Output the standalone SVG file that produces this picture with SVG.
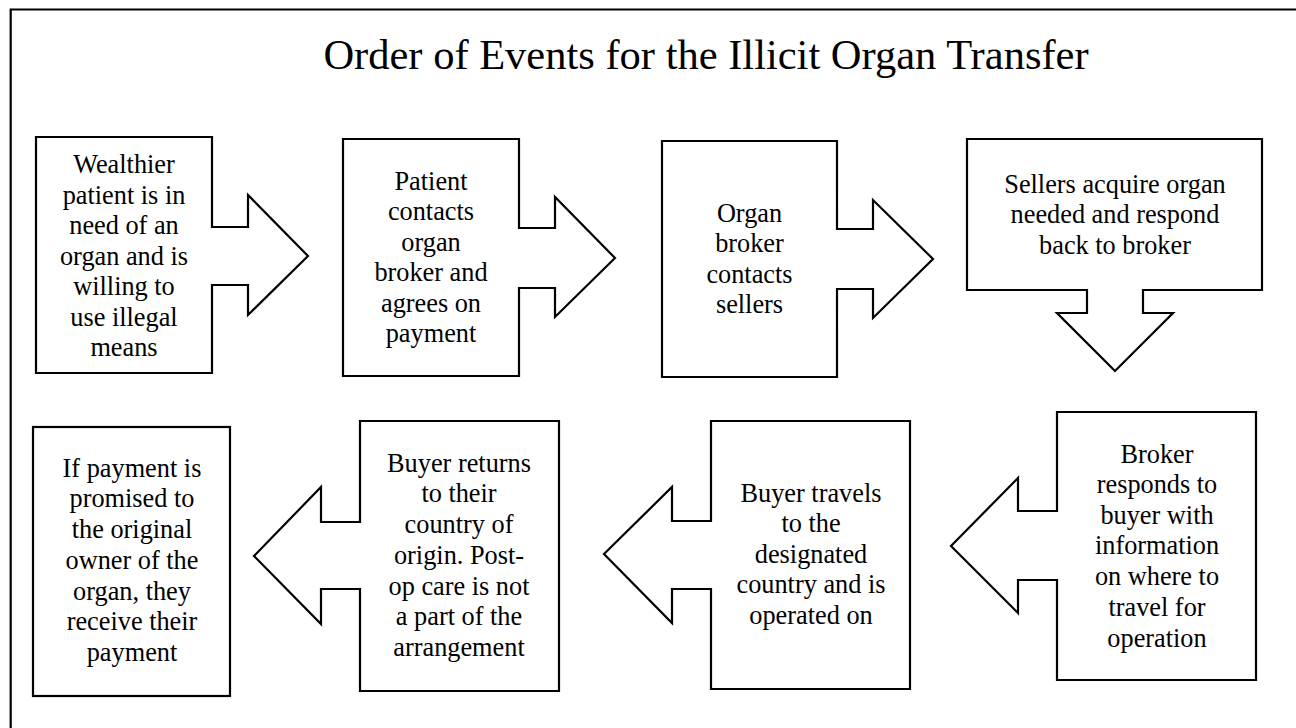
<svg xmlns="http://www.w3.org/2000/svg" width="1296" height="728" viewBox="0 0 1296 728">
<style>
.shape{fill:#fff;stroke:#000;stroke-width:2.2;stroke-linejoin:miter}
.t{font-family:"Liberation Serif","Times New Roman",serif;font-size:26.3px;fill:#000;text-anchor:middle}
.title{font-family:"Liberation Serif","Times New Roman",serif;font-size:42.5px;fill:#000;text-anchor:middle}
</style>
<rect x="0" y="0" width="1296" height="728" fill="#fff"/>
<path d="M10.7,740 V9.5 H1310" fill="none" stroke="#000" stroke-width="2.2"/>
<text class="title" x="706" y="69">Order of Events for the Illicit Organ Transfer</text>
<g id="connectors"></g>
<g id="node1">
<path class="shape" d="M36,137 H212 V227 H248 V195 L308,256 L248,315 V285 H212 V373 H36 Z"/>
<text class="t" x="124" y="173">Wealthier</text>
<text class="t" x="124" y="204">patient is in</text>
<text class="t" x="124" y="234">need of an</text>
<text class="t" x="124" y="265">organ and is</text>
<text class="t" x="124" y="295">willing to</text>
<text class="t" x="124" y="326">use illegal</text>
<text class="t" x="124" y="356">means</text>
</g>
<g id="node2">
<path class="shape" d="M343,139 H519 V228 H555 V197 L615,258 L555,317 V288 H519 V376 H343 Z"/>
<text class="t" x="431" y="190">Patient</text>
<text class="t" x="431" y="220">contacts</text>
<text class="t" x="431" y="251">organ</text>
<text class="t" x="431" y="281">broker and</text>
<text class="t" x="431" y="312">agrees on</text>
<text class="t" x="431" y="342">payment</text>
</g>
<g id="node3">
<path class="shape" d="M662,141 H837 V229 H873 V200 L933,259 L873,318 V289 H837 V377 H662 Z"/>
<text class="t" x="749.5" y="222">Organ</text>
<text class="t" x="749.5" y="252">broker</text>
<text class="t" x="749.5" y="283">contacts</text>
<text class="t" x="749.5" y="313">sellers</text>
</g>
<g id="node4">
<path class="shape" d="M967,139 H1262 V290 H1143 V313 H1173 L1115,371 L1057,313 H1087 V290 H967 Z"/>
<text class="t" x="1115" y="193">Sellers acquire organ</text>
<text class="t" x="1115" y="223">needed and respond</text>
<text class="t" x="1115" y="254">back to broker</text>
</g>
<g id="node5">
<path class="shape" d="M1057,412 H1256 V680 H1057 V580 H1018 V613 L951,546 L1018,478 V511 H1057 Z"/>
<text class="t" x="1157" y="463">Broker</text>
<text class="t" x="1157" y="493">responds to</text>
<text class="t" x="1157" y="524">buyer with</text>
<text class="t" x="1157" y="554">information</text>
<text class="t" x="1157" y="585">on where to</text>
<text class="t" x="1157" y="616">travel for</text>
<text class="t" x="1157" y="647">operation</text>
</g>
<g id="node6">
<path class="shape" d="M711,421 H910 V689 H711 V589 H672 V623 L604,554 L672,487 V521 H711 Z"/>
<text class="t" x="811" y="502">Buyer travels</text>
<text class="t" x="811" y="532">to the</text>
<text class="t" x="811" y="563">designated</text>
<text class="t" x="811" y="593">country and is</text>
<text class="t" x="811" y="624">operated on</text>
</g>
<g id="node7">
<path class="shape" d="M360,421 H559 V691 H360 V589 H321 V624 L254,556 L321,487 V522 H360 Z"/>
<text class="t" x="459" y="472">Buyer returns</text>
<text class="t" x="459" y="502">to their</text>
<text class="t" x="459" y="533">country of</text>
<text class="t" x="459" y="564">origin. Post-</text>
<text class="t" x="459" y="595">op care is not</text>
<text class="t" x="459" y="625">a part of the</text>
<text class="t" x="459" y="656">arrangement</text>
</g>
<g id="node8">
<rect class="shape" x="33" y="427" width="197" height="269"/>
<text class="t" x="132" y="477">If payment is</text>
<text class="t" x="132" y="507">promised to</text>
<text class="t" x="132" y="538">the original</text>
<text class="t" x="132" y="569">owner of the</text>
<text class="t" x="132" y="600">organ, they</text>
<text class="t" x="132" y="630">receive their</text>
<text class="t" x="132" y="661">payment</text>
</g>
</svg>
